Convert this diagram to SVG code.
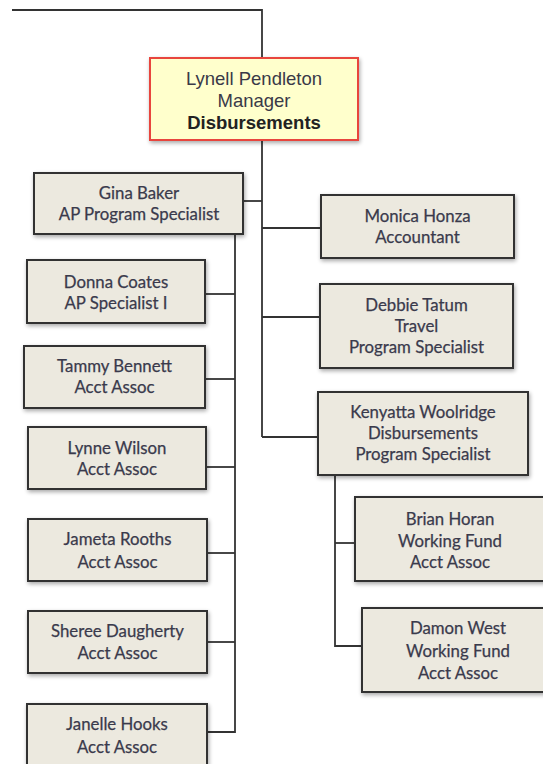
<svg xmlns="http://www.w3.org/2000/svg" width="543" height="764" viewBox="0 0 543 764">
<defs>
<filter id="sh" x="-10%" y="-10%" width="125%" height="130%">
<feGaussianBlur in="SourceAlpha" stdDeviation="2"/>
<feOffset dx="1" dy="2" result="b"/>
<feComponentTransfer><feFuncA type="linear" slope="0.35"/></feComponentTransfer>
<feMerge><feMergeNode/><feMergeNode in="SourceGraphic"/></feMerge>
</filter>
</defs>
<style>
.box{fill:#ECE9DF;stroke:#333333;stroke-width:2;filter:url(#sh)}
.mgr{fill:#FFFFCC;stroke:#E8453C;stroke-width:2;filter:url(#sh)}
.t{font-family:Lato,"Open Sans",sans-serif;font-size:16.8px;fill:#3a3a4c;text-anchor:middle;stroke:#3a3a4c;stroke-width:0.25}
.m{font-family:"Liberation Sans",Arial,sans-serif;font-size:18.5px;fill:#3a3a48;text-anchor:middle}
.mb{font-weight:bold;fill:#222}
.c{fill:none;stroke:#333333;stroke-width:1.8}
</style>
<rect width="543" height="764" fill="#ffffff"/>
<g id="connectors">
<path class="c" d="M12,10 H262 V58"/>
<path class="c" d="M262,140 V437"/>
<path class="c" d="M243,201 H262"/>
<path class="c" d="M262,228 H321"/>
<path class="c" d="M262,317 H320"/>
<path class="c" d="M262,437 H318"/>
<path class="c" d="M235,234 V732 H207"/>
<path class="c" d="M205,294 H235"/>
<path class="c" d="M205,379 H235"/>
<path class="c" d="M206,467 H235"/>
<path class="c" d="M207,553 H235"/>
<path class="c" d="M207,642 H235"/>
<path class="c" d="M335,475 V646 H362"/>
<path class="c" d="M335,543 H355"/>
</g>
<g id="manager">
<rect class="mgr" x="150" y="58" width="208" height="82"/>
<text class="m" x="254" y="85">Lynell Pendleton</text>
<text class="m" x="254" y="107">Manager</text>
<text class="m mb" x="254" y="129">Disbursements</text>
</g>
<g id="gina">
<rect class="box" x="34" y="173" width="209" height="61"/>
<text class="t" x="139" y="199">Gina Baker</text>
<text class="t" x="139" y="220">AP Program Specialist</text>
</g>
<g id="donna">
<rect class="box" x="27" y="260" width="178" height="63"/>
<text class="t" x="116" y="288">Donna Coates</text>
<text class="t" x="116" y="309">AP Specialist I</text>
</g>
<g id="tammy">
<rect class="box" x="24" y="346" width="181" height="62"/>
<text class="t" x="114.5" y="372">Tammy Bennett</text>
<text class="t" x="114.5" y="393">Acct Assoc</text>
</g>
<g id="lynne">
<rect class="box" x="28" y="427" width="178" height="62"/>
<text class="t" x="117" y="454">Lynne Wilson</text>
<text class="t" x="117" y="475">Acct Assoc</text>
</g>
<g id="jameta">
<rect class="box" x="28" y="519" width="179" height="62"/>
<text class="t" x="117.5" y="545">Jameta Rooths</text>
<text class="t" x="117.5" y="568">Acct Assoc</text>
</g>
<g id="sheree">
<rect class="box" x="28" y="611" width="179" height="62"/>
<text class="t" x="117.5" y="637">Sheree Daugherty</text>
<text class="t" x="117.5" y="659">Acct Assoc</text>
</g>
<g id="janelle">
<rect class="box" x="27" y="704" width="180" height="72"/>
<text class="t" x="117" y="730">Janelle Hooks</text>
<text class="t" x="117" y="753">Acct Assoc</text>
</g>
<g id="monica">
<rect class="box" x="321" y="195" width="193" height="63"/>
<text class="t" x="417.5" y="222">Monica Honza</text>
<text class="t" x="417.5" y="243">Accountant</text>
</g>
<g id="debbie">
<rect class="box" x="320" y="284" width="193" height="84"/>
<text class="t" x="416.5" y="311">Debbie Tatum</text>
<text class="t" x="416.5" y="332">Travel</text>
<text class="t" x="416.5" y="353">Program Specialist</text>
</g>
<g id="kenyatta">
<rect class="box" x="318" y="392" width="210" height="83"/>
<text class="t" x="423" y="418">Kenyatta Woolridge</text>
<text class="t" x="423" y="439">Disbursements</text>
<text class="t" x="423" y="460">Program Specialist</text>
</g>
<g id="brian">
<rect class="box" x="355" y="497" width="200" height="84"/>
<text class="t" x="450" y="525">Brian Horan</text>
<text class="t" x="450" y="547">Working Fund</text>
<text class="t" x="450" y="568">Acct Assoc</text>
</g>
<g id="damon">
<rect class="box" x="362" y="608" width="200" height="84"/>
<text class="t" x="458" y="634">Damon West</text>
<text class="t" x="458" y="657">Working Fund</text>
<text class="t" x="458" y="679">Acct Assoc</text>
</g>
</svg>
